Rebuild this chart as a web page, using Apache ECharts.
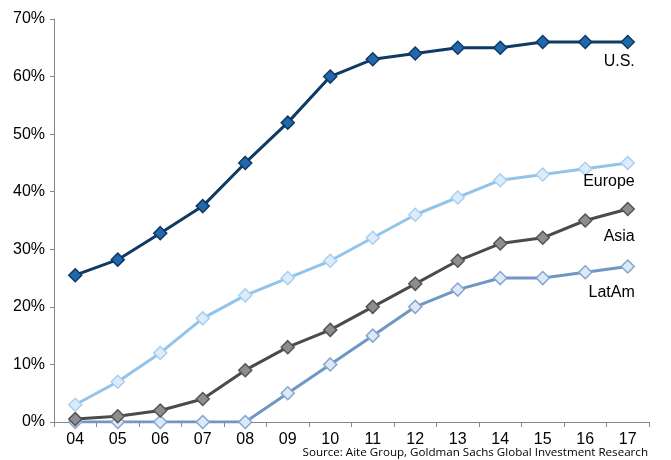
<!DOCTYPE html>
<html>
<head>
<meta charset="utf-8">
<script src="https://cdn.jsdelivr.net/npm/echarts@6/dist/echarts.min.js"></script>
<style>
  html, body { margin: 0; padding: 0; background: #fff; }
  #chart { width: 671px; height: 460px; }
</style>
</head>
<body>
<div id="chart"></div>
<script>
// years (x axis)
var years = ['04', '05', '06', '07', '08', '09', '10', '11', '12', '13', '14', '15', '16', '17'];
// share in %
var us     = [25.5, 28.2, 32.8, 37.5, 45, 52, 60, 63, 64, 65, 65, 66, 66, 66];
var europe = [3, 7, 12, 18, 22, 25, 28, 32, 36, 39, 42, 43, 44, 45];
var asia   = [0.5, 1, 2, 4, 9, 13, 16, 20, 24, 28, 31, 32, 35, 37];
var latam  = [0, 0, 0, 0, 0, 5, 10, 15, 20, 23, 25, 25, 26, 27];
var yTicks = [0, 10, 20, 30, 40, 50, 60, 70];

var font = '"Liberation Sans"';

// put the name label on the last point of a series
function withEndLabel(values, name, dy) {
    return values.map(function (v, i) {
        if (i !== values.length - 1) return v;
        return {
            value: v,
            label: {
                show: true,
                formatter: name,
                position: 'inside',
                align: 'right',
                verticalAlign: 'middle',
                offset: [7, dy],
                color: '#000',
                fontSize: 16,
                fontFamily: font
            }
        };
    });
}

function makeSeries(name, values, lineColor, fill, border, dy) {
    return {
        name: name,
        type: 'line',
        data: withEndLabel(values, name, dy),
        symbol: 'diamond',
        symbolSize: 13,
        lineStyle: { color: lineColor, width: 3 },
        itemStyle: { color: fill, borderColor: border, borderWidth: 1.5 },
        emphasis: { disabled: true },
        animation: false
    };
}

var myChart = echarts.init(document.getElementById('chart'));
var option = {
    backgroundColor: '#fff',
    grid: { left: 54, right: 22, top: 19, bottom: 38 },
    xAxis: {
        type: 'category',
        data: years,
        boundaryGap: true,
        axisLine: { lineStyle: { color: '#868686', width: 1 } },
        axisTick: { show: true, length: 5, inside: false, lineStyle: { color: '#868686' } },
        axisLabel: { color: '#000', fontSize: 16, fontFamily: font, margin: 10 },
        splitLine: { show: false }
    },
    yAxis: {
        type: 'value',
        min: yTicks[0],
        max: yTicks[yTicks.length - 1],
        interval: 10,
        axisLine: { show: true, lineStyle: { color: '#868686', width: 1 } },
        axisTick: { show: true, length: 4, lineStyle: { color: '#868686' } },
        axisLabel: { color: '#000', fontSize: 16, fontFamily: font, margin: 9, formatter: '{value}%' },
        splitLine: { show: false }
    },
    series: [
        makeSeries('LatAm', latam, '#7096c4', '#dde9f7', '#86a6cf', 26),
        makeSeries('Asia', asia, '#4b4b4b', '#8e8e8e', '#555555', 28),
        makeSeries('Europe', europe, '#92c4ea', '#dcecfb', '#a9d0f0', 19),
        makeSeries('U.S.', us, '#0e3a63', '#2168ad', '#0e3a63', 20)
    ],
    graphic: [{
        type: 'text',
        right: 23,
        bottom: 1,
        style: {
            text: 'Source: Aite Group, Goldman Sachs Global Investment Research',
            fill: '#000',
            font: '11.6px "Open Sans"'
        }
    }]
};
myChart.setOption(option);
</script>
</body>
</html>
